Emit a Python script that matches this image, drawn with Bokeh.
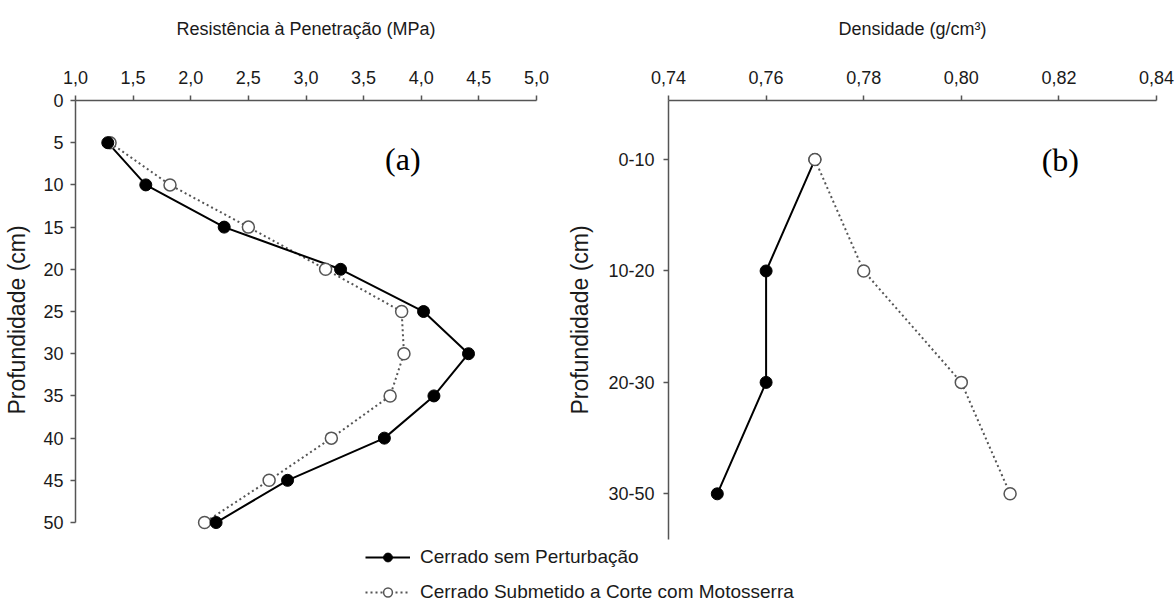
from bokeh.plotting import figure
from bokeh.models import (Range1d, FixedTicker, Legend, LegendItem, Label,
                          ColumnDataSource)
from bokeh.layouts import column, row
from bokeh.embed import file_html
from bokeh.resources import INLINE

# ---------------- data ----------------
depth_a = [5, 10, 15, 20, 25, 30, 35, 40, 45, 50]
rp_sem_perturbacao = [1.28, 1.61, 2.29, 3.30, 4.02, 4.41, 4.11, 3.68, 2.84, 2.22]
rp_motosserra = [1.30, 1.82, 2.50, 3.17, 3.83, 3.85, 3.73, 3.22, 2.68, 2.12]

depth_classes = ["0-10", "10-20", "20-30", "30-50"]
dens_sem_perturbacao = [0.77, 0.76, 0.76, 0.75]
dens_motosserra = [0.77, 0.78, 0.80, 0.81]

x_ticks_a = [1.0, 1.5, 2.0, 2.5, 3.0, 3.5, 4.0, 4.5, 5.0]
x_labels_a = ["1,0", "1,5", "2,0", "2,5", "3,0", "3,5", "4,0", "4,5", "5,0"]
y_ticks_a = [0, 5, 10, 15, 20, 25, 30, 35, 40, 45, 50]

x_ticks_b = [0.74, 0.76, 0.78, 0.80, 0.82, 0.84]
x_labels_b = ["0,74", "0,76", "0,78", "0,80", "0,82", "0,84"]

series_names = ["Cerrado sem Perturbação", "Cerrado Submetido a Corte com Motosserra"]

# ---------------- style ----------------
SANS = "Liberation Sans, Arial"
SERIF = "Liberation Serif, Times New Roman"
TXT = "#1a1a1a"
AX = "#555555"
OPEN_LINE = "#555555"


def style(p):
    p.outline_line_color = None
    p.grid.visible = False
    p.background_fill_color = "white"
    p.border_fill_color = "white"
    for ax in p.axis:
        ax.axis_line_color = AX
        ax.axis_line_width = 1.5
        ax.major_tick_line_color = AX
        ax.major_tick_line_width = 1.5
        ax.major_tick_in = 0
        ax.major_tick_out = 5
        ax.minor_tick_line_color = None
        ax.major_label_text_font = SANS
        ax.major_label_text_font_size = "18px"
        ax.major_label_text_color = TXT
        ax.axis_label_text_font_style = "normal"
        ax.axis_label_text_color = TXT


# ---------------- plot (a) ----------------
p1 = figure(width=560, height=545, x_range=Range1d(1.0, 5.0), y_range=Range1d(52.01, 0),
            x_axis_location="above", output_backend="svg", toolbar_location=None,
            min_border_left=75, min_border_right=24, min_border_top=100, min_border_bottom=6)
style(p1)
p1.xaxis.ticker = FixedTicker(ticks=x_ticks_a)
p1.xaxis.major_label_overrides = dict(zip(x_ticks_a, x_labels_a))
p1.xaxis.major_label_standoff = 12
p1.xaxis.axis_label = "Resistência à Penetração (MPa)"
p1.xaxis.axis_label_text_font = SANS
p1.xaxis.axis_label_text_font_size = "18px"
p1.xaxis.axis_label_standoff = 29
p1.yaxis.ticker = FixedTicker(ticks=y_ticks_a)
p1.yaxis.bounds = (0, 50)
p1.yaxis.major_label_standoff = 7
p1.yaxis.axis_label = "Profundidade (cm)"
p1.yaxis.axis_label_text_font = SANS
p1.yaxis.axis_label_text_font_size = "23px"
p1.yaxis.axis_label_standoff = 10

src_a = ColumnDataSource(dict(depth=depth_a, sem=rp_sem_perturbacao, mot=rp_motosserra))
p1.line("mot", "depth", source=src_a, line_color=OPEN_LINE, line_width=2, line_dash="2 3")
p1.line("sem", "depth", source=src_a, line_color="black", line_width=2)
p1.scatter("mot", "depth", source=src_a, size=12, fill_color="white",
           line_color=OPEN_LINE, line_width=1.5)
p1.scatter("sem", "depth", source=src_a, size=12, fill_color="black", line_color="black")
p1.add_layout(Label(x=3.84, y=6.9, text="(a)", text_font=SERIF,
                    text_font_size="32px", text_align="center", text_baseline="middle",
                    text_color="black"))

# ---------------- plot (b) ----------------
pos_b = list(range(1, len(depth_classes) + 1))
p2 = figure(width=616, height=545, x_range=Range1d(0.74, 0.84), y_range=Range1d(4.41, 0.47),
            x_axis_location="above", output_backend="svg", toolbar_location=None,
            min_border_left=108, min_border_right=20, min_border_top=100, min_border_bottom=6)
style(p2)
p2.xaxis.ticker = FixedTicker(ticks=x_ticks_b)
p2.xaxis.major_label_overrides = dict(zip(x_ticks_b, x_labels_b))
p2.xaxis.major_label_standoff = 12
p2.xaxis.axis_label = "Densidade (g/cm³)"
p2.xaxis.axis_label_text_font = SANS
p2.xaxis.axis_label_text_font_size = "18px"
p2.xaxis.axis_label_standoff = 29
p2.yaxis.ticker = FixedTicker(ticks=pos_b)
p2.yaxis.major_label_overrides = dict(zip(pos_b, depth_classes))
p2.yaxis.major_label_standoff = 9
p2.yaxis.axis_label = "Profundidade (cm)"
p2.yaxis.axis_label_text_font = SANS
p2.yaxis.axis_label_text_font_size = "23px"
p2.yaxis.axis_label_standoff = 12

src_b = ColumnDataSource(dict(pos=pos_b, sem=dens_sem_perturbacao, mot=dens_motosserra))
p2.line("mot", "pos", source=src_b, line_color=OPEN_LINE, line_width=2, line_dash="2 3")
p2.line("sem", "pos", source=src_b, line_color="black", line_width=2)
p2.scatter("sem", "pos", source=src_b, size=12, fill_color="black", line_color="black")
p2.scatter("mot", "pos", source=src_b, size=12, fill_color="white",
           line_color=OPEN_LINE, line_width=1.5)
p2.add_layout(Label(x=0.8203, y=1.0, text="(b)", text_font=SERIF,
                    text_font_size="32px", text_align="center", text_baseline="middle",
                    text_color="black"))

# ---------------- legend (its renderers lie outside this strip's ranges) ----------------
pl = figure(width=1176, height=62, x_range=Range1d(0, 1), y_range=Range1d(0, 1),
            output_backend="svg", toolbar_location=None,
            min_border_left=0, min_border_right=0, min_border_top=0, min_border_bottom=0)
pl.axis.visible = False
pl.grid.visible = False
pl.outline_line_color = None
l1 = pl.line("sem", "depth", source=src_a, line_color="black", line_width=2)
s1 = pl.scatter("sem", "depth", source=src_a, size=12, fill_color="black", line_color="black")
l2 = pl.line("mot", "depth", source=src_a, line_color=OPEN_LINE, line_width=2, line_dash="2 3")
s2 = pl.scatter("mot", "depth", source=src_a, size=12, fill_color="white", line_color=OPEN_LINE,
                line_width=1.5)
legend = Legend(items=[LegendItem(label=series_names[0], renderers=[l1, s1]),
                       LegendItem(label=series_names[1], renderers=[l2, s2])],
                location=(365, 4), orientation="vertical",
                padding=0, margin=0, spacing=13,
                glyph_width=45, glyph_height=22, label_height=22, label_standoff=10,
                label_text_font=SANS, label_text_font_size="19px", label_text_color=TXT,
                border_line_color=None, background_fill_alpha=0)
pl.add_layout(legend, "center")

layout = column(row(p1, p2), pl)
open("out.html", "w").write(file_html(layout, INLINE))
